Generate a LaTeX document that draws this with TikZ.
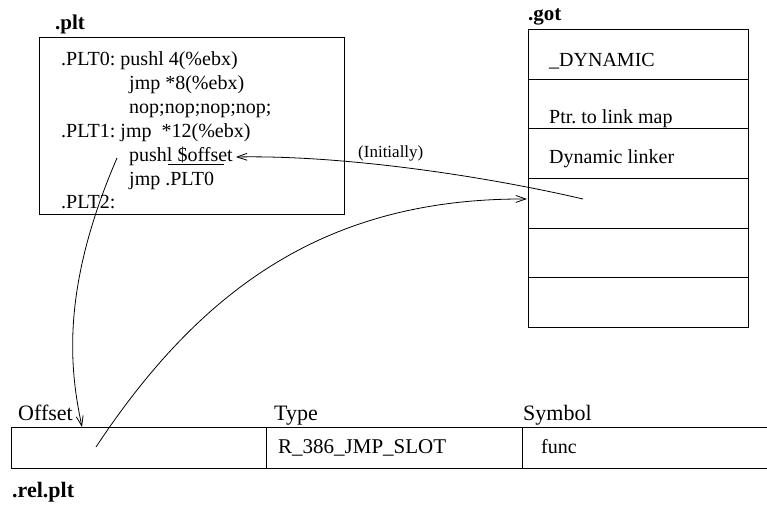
\documentclass[tikz,border=0pt]{standalone}
\usepackage{fontspec}
\setmainfont{Liberation Serif}
\usetikzlibrary{arrows.meta}
\frenchspacing
\begin{document}
\begin{tikzpicture}[x=1pt,y=-1pt,
  frame/.style={draw, line width=0.9pt, inner sep=0pt, anchor=north west},
  code/.style={anchor=base west, inner sep=0pt, font=\fontsize{20}{24}\selectfont},
  head/.style={anchor=base west, inner sep=0pt, font=\fontsize{22}{26}\selectfont},
  cell/.style={anchor=base west, inner sep=0pt, font=\fontsize{21}{24}\selectfont},
  title/.style={anchor=base west, inner sep=0pt, font=\fontsize{21}{24}\selectfont\bfseries},
  note/.style={anchor=base west, inner sep=0pt, font=\fontsize{17}{20}\selectfont},
  link/.style={line width=0.8pt, -{Straight Barb[length=10pt,width=7pt,line width=0.8pt]}},
  rule/.style={line width=0.9pt}]
\useasboundingbox (0,0) rectangle (767,508);

% ---- .plt section ----
\node[title] (plttitle) at (55,30) {.plt};
\node[frame, minimum width=305pt, minimum height=177pt] (pltbox) at (39,37) {};
\node[code] (plt0)  at (61,66)    {.PLT0: pushl 4(\%ebx)};
\node[code] (jmp8)  at (129,89.8) {jmp *8(\%ebx)};
\node[code] (nops)  at (129,113.6){nop;nop;nop;nop;};
\node[code] (plt1)  at (61,137.4) {.PLT1: jmp~~*12(\%ebx)};
\node[code] (pushl) at (129,161.2){pushl \$offset};
\node[code] (jmp0)  at (129,185)  {jmp .PLT0};
\node[code] (plt2)  at (61,208.8) {.PLT2:};
\draw[line width=0.8pt] (168,164) -- (224,164);

% ---- .got section ----
\node[title] (gottitle) at (528,21) {.got};
\node[frame, minimum width=220pt, minimum height=50pt] (got1) at (528,29)  {};
\node[frame, minimum width=220pt, minimum height=49pt] (got2) at (528,79)  {};
\node[frame, minimum width=220pt, minimum height=50pt] (got3) at (528,128) {};
\node[frame, minimum width=220pt, minimum height=50pt] (got4) at (528,178) {};
\node[frame, minimum width=220pt, minimum height=49pt] (got5) at (528,228) {};
\node[frame, minimum width=220pt, minimum height=50pt] (got6) at (528,277) {};
\node[code] (dyn)    at (549,67)  {\_DYNAMIC};
\node[code] (ptrmap) at (549,124) {Ptr. to link map};
\node[code] (dlink)  at (549,163) {Dynamic linker};

% ---- .rel.plt section ----
\node[head] (hoff)  at (18,420)  {Offset};
\node[head] (htype) at (274,420) {Type};
\node[head] (hsym)  at (523,420) {Symbol};
\draw[rule] (770,427) -- (11,427) -- (11,468) -- (770,468);
\draw[rule] (266,427) -- (266,468);
\draw[rule] (522,427) -- (522,468);
\node[cell] (rtype) at (278,453) {R\_386\_JMP\_SLOT};
\node[code] (rsym)  at (541,453) {func};
\node[title, font=\fontsize{22}{26}\selectfont\bfseries] (reltitle) at (12,497) {.rel.plt};

% ---- connector end points ----
\coordinate (gotslot)  at (583,199);
\coordinate (gotedge)  at (527,199);
\coordinate (offcell)  at (96,447);
\coordinate (offtip)   at (82,427);
\coordinate (pushfoot) at (117,158);
\coordinate (pushtip)  at ([xshift=3pt]pushl.east |- 0,157);

% ---- connectors ----
\draw[link] (gotslot) .. controls (480,175) and (340,155) .. (pushtip);
\node[note] (initially) at (358,157) {(Initially)};
\draw[link] (offcell) .. controls (200,290) and (325,198) .. (gotedge);
\draw[link] (pushfoot) .. controls (60,290) and (70,370) .. (offtip);
\end{tikzpicture}
\end{document}
